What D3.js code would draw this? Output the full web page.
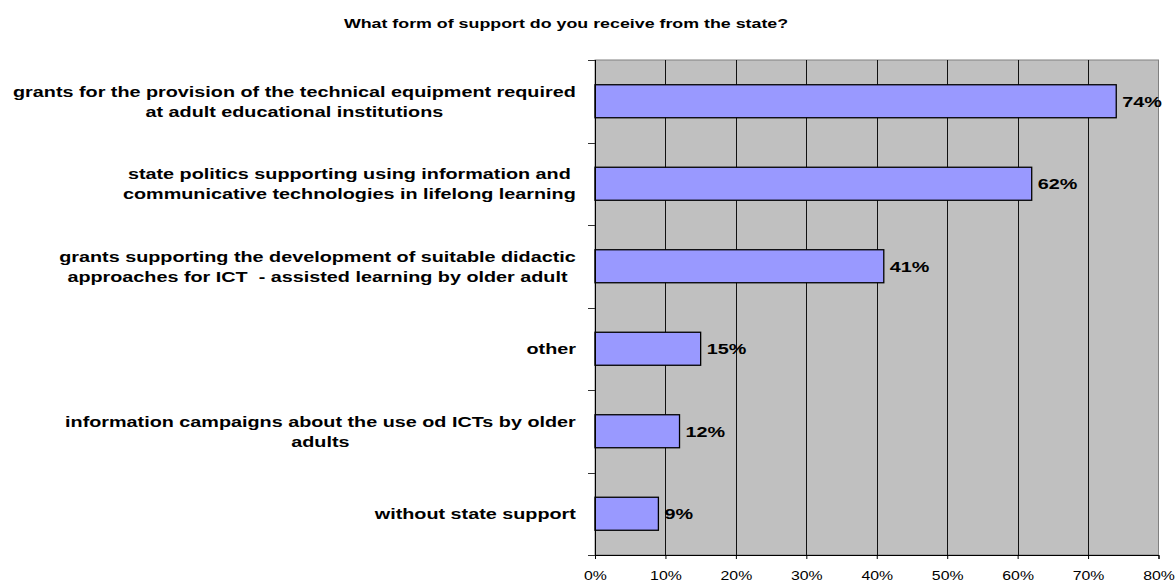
<!DOCTYPE html>
<html>
<head>
<meta charset="utf-8">
<script src="https://cdn.jsdelivr.net/npm/d3@7"></script>
<style>
  html, body { margin: 0; padding: 0; background: #ffffff; }
  svg { display: block; font-family: "Liberation Sans", Arial, sans-serif; }
  .cat { white-space: pre; }
</style>
</head>
<body>
<svg id="chart" width="1176" height="581"></svg>
<script>
// Survey answers, one line per array entry (wrapped labels are split into lines)
const categories = [
  ["grants for the provision of the technical equipment required", "at adult educational institutions"],
  ["state politics supporting using information and", "communicative technologies in lifelong learning"],
  ["grants supporting the development of suitable didactic", "approaches for ICT  - assisted learning by older adult"],
  ["other"],
  ["information campaigns about the use od ICTs by older", "adults"],
  ["without state support"]
];
const values = [74, 62, 41, 15, 12, 9];
const xTicks = [0, 10, 20, 30, 40, 50, 60, 70, 80];
const title = "What form of support do you receive from the state?";

const svg = d3.select("#chart");
const plot = { left: 595, right: 1158.5, top: 60, bottom: 555 };
const SX = 1.32; // horizontal stretch applied to all text

const ids = categories.map((d, i) => i);
const x = d3.scaleLinear().domain([0, 80]).range([plot.left, plot.right]);
const y = d3.scaleBand().domain(ids).range([plot.top, plot.bottom])
  .paddingInner(0.6).paddingOuter(0.3);

// Title
svg.append("text")
  .attr("transform", `translate(566,27.5) scale(${SX},1)`)
  .attr("text-anchor", "middle")
  .attr("font-size", 13.5)
  .attr("font-weight", "bold")
  .attr("fill", "#000")
  .text(title);

// Plot background
svg.append("rect")
  .attr("x", plot.left).attr("y", plot.top)
  .attr("width", plot.right - plot.left).attr("height", plot.bottom - plot.top)
  .attr("fill", "#c0c0c0")
  .attr("stroke", "#808080")
  .attr("stroke-width", 1);

// Vertical gridlines
svg.append("g").selectAll("line")
  .data(xTicks.filter(t => t > 0 && t < 80))
  .join("line")
  .attr("x1", d => Math.round(x(d)) + 0.5).attr("x2", d => Math.round(x(d)) + 0.5)
  .attr("y1", plot.top).attr("y2", plot.bottom)
  .attr("stroke", "#111").attr("stroke-width", 1);

// Bars
svg.append("g").selectAll("rect")
  .data(values)
  .join("rect")
  .attr("x", x(0))
  .attr("y", (d, i) => y(i))
  .attr("width", d => x(d) - x(0))
  .attr("height", y.bandwidth())
  .attr("fill", "#9999ff")
  .attr("stroke", "#000")
  .attr("stroke-width", 1.3);

// Value labels
svg.append("g").selectAll("text")
  .data(values)
  .join("text")
  .attr("transform", (d, i) => `translate(${x(d) + 6},${y(i) + y.bandwidth() / 2 + 5.3}) scale(${SX},1)`)
  .attr("font-size", 15)
  .attr("font-weight", "bold")
  .attr("fill", "#000")
  .text(d => d + "%");

// Value axis (bottom)
const xAxis = d3.axisBottom(x)
  .tickValues(xTicks)
  .tickFormat(d => d + "%")
  .tickSize(4)
  .tickPadding(12);
const gx = svg.append("g")
  .attr("transform", `translate(0,${plot.bottom})`)
  .call(xAxis);
gx.select(".domain").attr("stroke", "#000");
gx.selectAll(".tick line").attr("stroke", "#000");
gx.selectAll(".tick text")
  .attr("font-size", 12)
  .attr("font-family", "Liberation Sans, Arial, sans-serif")
  .attr("fill", "#000")
  .attr("transform", `scale(${SX},1)`);

// Category axis line (left) with tick marks at category boundaries
svg.append("line")
  .attr("x1", plot.left + 0.5).attr("x2", plot.left + 0.5)
  .attr("y1", plot.top).attr("y2", plot.bottom)
  .attr("stroke", "#000").attr("stroke-width", 1);
const bounds = d3.range(categories.length + 1).map(i => plot.top + i * y.step());
svg.append("g").selectAll("line")
  .data(bounds)
  .join("line")
  .attr("x1", plot.left - 7).attr("x2", plot.left)
  .attr("y1", d => Math.round(d) + 0.5).attr("y2", d => Math.round(d) + 0.5)
  .attr("stroke", "#333").attr("stroke-width", 1);

// Category labels: centred lines inside a block that is right-aligned near the axis
const labelRight = 576;
const lineH = 20;
const gl = svg.append("g");
categories.forEach((lines, i) => {
  const c = y(i) + y.bandwidth() / 2;
  const texts = lines.map(s => gl.append("text")
    .attr("class", "cat")
    .attr("font-size", 15)
    .attr("font-weight", "bold")
    .attr("fill", "#000")
    .attr("text-anchor", "middle")
    .text(s));
  const widths = texts.map(t => t.node().getComputedTextLength() * SX);
  const blockW = d3.max(widths);
  const cx = labelRight - blockW / 2;
  texts.forEach((t, k) => {
    const base = c + (k - (lines.length - 1) / 2) * lineH + 5.3;
    t.attr("transform", `translate(${cx},${base}) scale(${SX},1)`);
  });
});
</script>
</body>
</html>
